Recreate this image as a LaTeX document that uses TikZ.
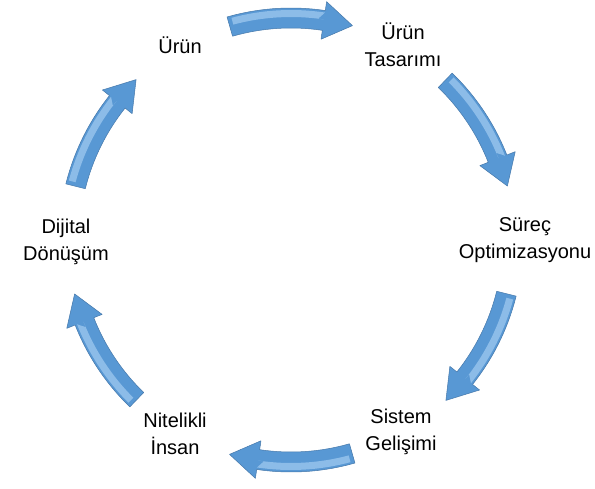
\documentclass[tikz,border=0pt]{standalone}
\usepackage{fontspec}
\setmainfont{Liberation Sans}
\definecolor{arrowfill}{RGB}{88,152,212}
\definecolor{arrowedge}{RGB}{70,120,170}
\definecolor{arrowlight}{RGB}{140,188,232}
\begin{document}
\begin{tikzpicture}[x=1pt,y=1pt,
  lbl/.style={font=\fontsize{20}{27}\selectfont, align=center, inner sep=0pt, text=black},
  cyc/.style={fill=arrowfill, draw=arrowedge, line width=0.5pt, line join=round},
  glow/.style={fill=arrowlight, draw=none}]
\useasboundingbox (-291,-248) rectangle (304,240);
\def\R{222}
\foreach \m in {90,30,-30,-90,-150,150}{
  \pgfmathsetmacro\a{\m+16}
  \pgfmathsetmacro\b{\m-16}
  \pgfmathsetmacro\c{\m-8.5}
  \pgfmathsetmacro\d{\m+15}
  \pgfmathsetmacro\e{\m-7}
  \draw[cyc] (\a:\R+10) arc[start angle=\a, end angle=\c, radius=\R+10]
     -- (\c:\R+19) -- (\b:\R+1) -- (\c:\R-19) -- (\c:\R-10)
     arc[start angle=\c, end angle=\a, radius=\R-10] -- cycle;
  \fill[glow] (\d:\R+8) arc[start angle=\d, end angle=\c, radius=\R+8]
     -- (\e:\R+1) -- (\c:\R+1) arc[start angle=\c, end angle=\d, radius=\R+1] -- cycle;
}
\node[lbl] (urun) at (-111,195) {Ürün};
\node[lbl] (tasarim) at (112,195) {Ürün\\Tasarımı};
\node[lbl] (surec) at (234,0) {Süreç\\Optimizasyonu};
\node[lbl] (sistem) at (110,-192) {Sistem\\Gelişimi};
\node[lbl] (insan) at (-116,-194) {Nitelikli\\İnsan};
\node[lbl] (dijital) at (-225,-2) {Dijital\\Dönüşüm};
\end{tikzpicture}
\end{document}
